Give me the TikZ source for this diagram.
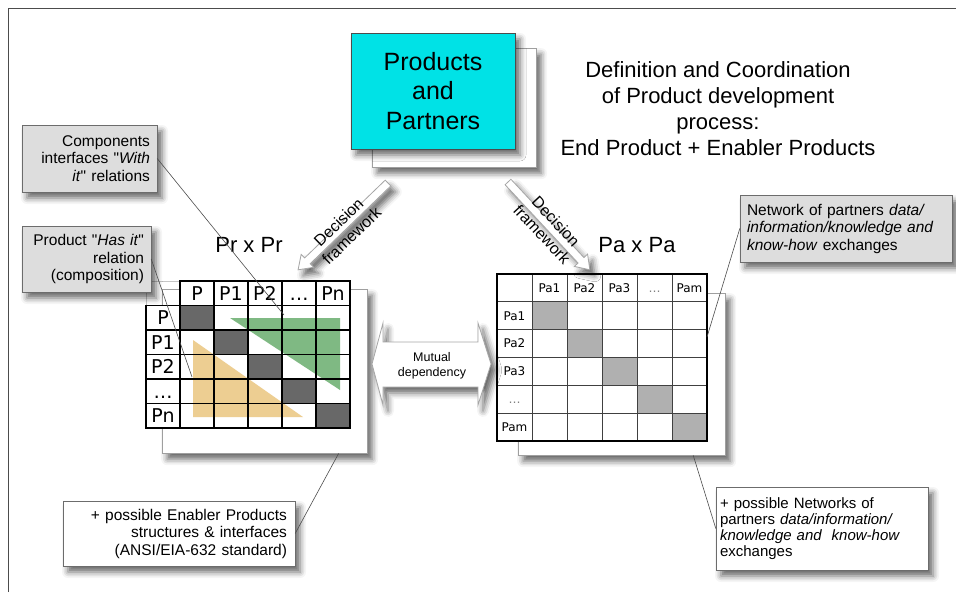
\documentclass[tikz,border=0pt]{standalone}
\usepackage{fontspec}
\setmainfont{Liberation Sans}
\newfontfamily\cellfont{DejaVu Sans}
\newfontfamily\qtfont{Liberation Sans}
\usetikzlibrary{calc,shadows.blur}

\definecolor{partnercyan}{RGB}{0,226,230}
\definecolor{notegray}{RGB}{221,221,221}
\definecolor{withgreen}{RGB}{96,168,100}
\definecolor{hastan}{RGB}{232,190,110}
\definecolor{diagdark}{RGB}{104,104,104}
\definecolor{diaglight}{RGB}{176,176,176}

% straight double quote (font without tex mapping)
\newcommand{\qt}{{\qtfont\symbol{34}}}

\tikzset{
	shade box/.style={blur shadow={shadow xshift=5pt,shadow yshift=-6pt,shadow blur radius=6pt,shadow opacity=60}},
	note/.style={draw=gray!85!black,fill=notegray,shade box,inner sep=0pt,font=\fontsize{15.5}{17.5}\selectfont},
	plain note/.style={note,fill=white},
	backbox/.style={draw=gray!75,fill=white,shade box,inner sep=0pt,anchor=north west},
	leader/.style={draw=gray!60!black,line width=0.6pt},
	blockarrow/.style={draw=gray!70,fill=white,line width=0.8pt,shade box},
	lgrid/.style={line width=1.6pt,line cap=rect},
	pgrid/.style={line width=0.9pt,black!75},
	pr label/.style={font=\cellfont\fontsize{19}{19}\selectfont,inner sep=0pt,anchor=base},
	pa label/.style={font=\cellfont\fontsize{12}{12}\selectfont,inner sep=0pt,anchor=base},
	arrow text/.style={font=\fontsize{16}{19}\selectfont,align=center,inner sep=0pt},
	heading/.style={font=\fontsize{22}{26}\selectfont,align=center,inner sep=0pt}
}

% hollow block arrow: tail, angle, length
\newcommand{\blockarrow}[3]{
	\draw [blockarrow,shift={#1},rotate=#2] (0,-4) -- ({#3-13},-4) -- ({#3-13},-9)
		-- (#3,0) -- ({#3-13},9) -- ({#3-13},4) -- (0,4) -- cycle
}

\begin{document}
\begin{tikzpicture}[x=1pt,y=-1pt]
	\useasboundingbox (0,0) rectangle (956,592);
	\draw [gray!60!black] (8,592) -- (8,8) -- (956,8);

	% products and partners
	\node [backbox,minimum width=164pt,minimum height=119pt] (prodback) at (372,48) {};
	\node [draw=black!70,fill=partnercyan,shade box,minimum width=164pt,minimum height=116pt,
		font=\fontsize{25}{29.5}\selectfont,align=center] (prod) at (433,91) {Products\\and\\Partners};
	\node [heading] (title) at (718,109) {Definition and Coordination\\of Product development\\process:\\End Product + Enabler Products};

	% backing sheets of both matrices
	\node [backbox,minimum width=205pt,minimum height=164pt] (prback) at (162,289) {};
	\node [backbox,minimum width=207pt,minimum height=162pt] (paback) at (518,293) {};

	\node [heading] (prtitle) at (249,245) {Pr x Pr};
	\node [heading] (patitle) at (637,245) {Pa x Pa};

	% Pr x Pr
	\fill [white] (180,281) rectangle (350,428);
	\fill [white] (146,305.5) rectangle (180,428);
	\fill [hastan,opacity=.75] (193,340) -- (193,417) -- (303,417) -- cycle;
	\fill [withgreen,opacity=.8] (230,318) -- (340,318) -- (340,390) -- cycle;
	\foreach \i in {1,...,5}
		\fill [diagdark] (146+34*\i,281+24.5*\i) rectangle ++(34,24.5);
	\draw [gray!45] (180,281) -- (146,281) -- (146,305.5);
	\draw [lgrid] (180,281) -- (350,281);
	\foreach \i in {1,...,6}
		\draw [lgrid] (146,281+24.5*\i) -- (350,281+24.5*\i);
	\draw [lgrid] (146,305.5) -- (146,428);
	\foreach \j in {1,...,6}
		\draw [lgrid] (146+34*\j,281) -- (146+34*\j,428);
	\foreach \lab [count=\j] in {P,P1,P2,\ldots,Pn} {
		\node [pr label] (prc\j) at (163+34*\j,300.2) {\lab};
		\node [pr label] (prr\j) at (163,300.2+24.5*\j) {\lab};
	}

	% Pa x Pa
	\fill [white] (497,274) rectangle (707,440.8);
	\foreach \i in {1,...,5}
		\fill [diaglight] (497+35*\i,274+27.8*\i) rectangle ++(35,27.8);
	\foreach \i in {1,...,5} {
		\draw [pgrid] (497,274+27.8*\i) -- (707,274+27.8*\i);
		\draw [pgrid] (497+35*\i,274) -- (497+35*\i,440.8);
	}
	\draw [line width=1.5pt] (497,274) rectangle (707,440.8);
	\foreach \lab [count=\j] in {Pa1,Pa2,Pa3,\textcolor{gray}{\ldots},Pam} {
		\node [pa label] (pac\j) at (514.5+35*\j,292.3) {\lab};
		\node [pa label] (par\j) at (514.5,292.3+27.8*\j) {\lab};
	}

	% decision framework and mutual dependency
	\blockarrow{(388,183)}{-136}{125};
	\blockarrow{(508,182)}{-47}{120};
	\node [arrow text,rotate=44] (decl) at (345,229) {Decision\\framework};
	\node [arrow text,rotate=-47] (decr) at (549,228) {Decision\\framework};
	\draw [blockarrow] (372,364) -- (383,323) -- (383,342) -- (478,342) -- (478,323) -- (491,364)
		-- (478,405) -- (478,387) -- (383,387) -- (383,405) -- cycle;
	\node [font=\fontsize{12.5}{14.5}\selectfont,align=center,inner sep=0pt] (mutual) at (432,366) {Mutual\\dependency};

	% notes
	\node [note,minimum width=135pt,minimum height=67pt,text width=121pt,align=right] (with) at (89.5,158.5)
		{Components\\interfaces \qt\textit{With}\\\textit{it}\qt{} relations};
	\node [note,minimum width=129pt,minimum height=66pt,text width=115pt,align=right] (has) at (86.5,259)
		{Product \qt\textit{Has it}\qt\\relation\\(composition)};
	\node [note,minimum width=212pt,minimum height=67pt,text width=198pt,align=left] (netw) at (846,228.5)
		{Network of partners \textit{data/}\\\textit{information/knowledge and}\\\textit{know-how} exchanges};
	\node [plain note,minimum width=232pt,minimum height=65pt,text width=216pt,align=right] (enabler) at (179,533.5)
		{+ possible Enabler Products\\structures \& interfaces\\(ANSI/EIA-632 standard)};
	\node [plain note,minimum width=212pt,minimum height=83pt,text width=204pt,align=left,
		font=\fontsize{15}{16}\selectfont] (netmore) at (822,528.5)
		{+ possible Networks of\\partners \textit{data/information/}\\\textit{knowledge and\ \ know-how}\\exchanges};

	% leaders
	\coordinate (withend) at (284,315);
	\coordinate (hasend) at (192,377);
	\coordinate (netwend) at (707,337);
	\draw [leader] (with.east) -- (withend);
	\draw [leader] (has.east) -- (hasend);
	\draw [leader] (netw.west) -- (netwend);
	\draw [leader] (enabler.east) -- ($(prback.south west)!.86!(prback.south east)$);
	\draw [leader] (netmore.west) -- ($(paback.south west)!.845!(paback.south east)$);
\end{tikzpicture}
\end{document}
